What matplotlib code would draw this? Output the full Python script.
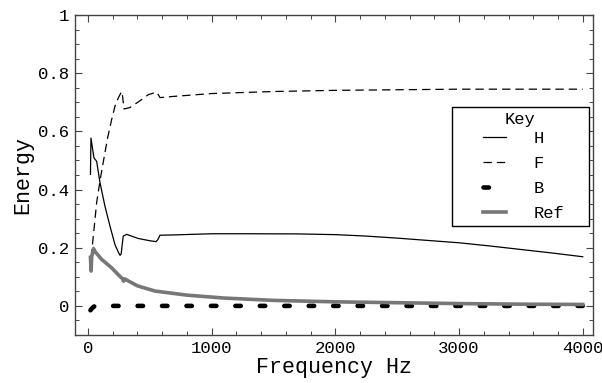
import matplotlib
matplotlib.use("Agg")
import matplotlib.pyplot as plt
from matplotlib.ticker import MultipleLocator
from matplotlib.lines import Line2D
from matplotlib.legend_handler import HandlerLine2D

plt.rcParams['font.family'] = ['Liberation Mono', 'DejaVu Sans Mono']
plt.rcParams['lines.scale_dashes'] = False

# H series
h_freq = [20, 24, 48, 70, 97, 137, 178, 218, 245, 259, 268, 278, 285, 313, 404, 500, 550,
          565, 582, 700, 838, 1000, 1300, 1700, 2000, 2250, 2500, 2750, 3000, 3250, 3500,
          3750, 4000]
h_val = [0.452, 0.577, 0.509, 0.497, 0.424, 0.343, 0.274, 0.211, 0.185, 0.174, 0.178, 0.215,
         0.24, 0.246, 0.232, 0.224, 0.221, 0.228, 0.243, 0.244, 0.246, 0.248, 0.248, 0.2475,
         0.245, 0.240, 0.233, 0.225, 0.217, 0.206, 0.194, 0.182, 0.169]

# F series
f_freq = [22, 30, 70, 97, 137, 159, 191, 218, 245, 272, 280, 291, 340, 420, 487, 555, 570,
          582, 687, 1000, 1500, 2000, 2500, 3000, 4000]
f_val = [0.12, 0.184, 0.355, 0.43, 0.527, 0.578, 0.64, 0.686, 0.715, 0.737, 0.72, 0.677,
         0.682, 0.705, 0.726, 0.735, 0.725, 0.716, 0.72, 0.73, 0.737, 0.741, 0.743, 0.745,
         0.745]

# B series
b_freq = [20, 35, 50, 60, 4000]
b_val = [-0.015, -0.007, -0.002, 0.0, 0.0]

# Ref series
r_freq = [20, 25, 30, 45, 60, 75, 110, 191, 250, 280, 288, 295, 400, 542, 800, 1100, 1500,
          2000, 2500, 3000, 3500, 4000]
r_val = [0.167, 0.12, 0.17, 0.197, 0.185, 0.178, 0.16, 0.131, 0.105, 0.093, 0.085, 0.093,
         0.069, 0.051, 0.037, 0.027, 0.019, 0.014, 0.011, 0.008, 0.006, 0.005]

fig = plt.figure(figsize=(6.02, 3.83), dpi=100)
ax = fig.add_axes([75/602, 1 - 335/383, (593-75)/602, (335-15)/383])

ax.plot(h_freq, h_val, color='black', lw=0.9, label='H')
ax.plot(f_freq, f_val, color='black', lw=0.9, dashes=(6, 3.6), label='F')
ax.plot(b_freq, b_val, color='black', lw=3.3, dashes=(3.9, 13.7),
        dash_capstyle='round', label='B')
ax.plot(r_freq, r_val, color='#777777', lw=2.6, label='Ref')

ax.set_xlim(-105, 4083)
ax.set_ylim(-0.1, 1.0)
ax.xaxis.set_major_locator(MultipleLocator(1000))
ax.xaxis.set_minor_locator(MultipleLocator(200))
ax.yaxis.set_minor_locator(MultipleLocator(0.05))
ax.set_yticks([0, 0.2, 0.4, 0.6, 0.8, 1.0])
ax.set_yticklabels(['0', '0.2', '0.4', '0.6', '0.8', '1'])
ax.tick_params(which='both', direction='in', top=True, right=True, labelsize=12.5,
               color='#444444')
ax.tick_params(which='major', length=5, width=0.8, pad=4)
ax.tick_params(which='minor', length=3, width=0.7)
for s in ax.spines.values():
    s.set_color('#444444')
    s.set_linewidth(1.0)

ax.set_xlabel('Frequency Hz', fontsize=15.6, labelpad=1)
ax.set_ylabel('Energy', fontsize=15.6, labelpad=4)


def legend_update(handle, orig):
    handle.update_from(orig)
    if orig.get_label() == 'B':
        handle.set_dashes((3.9, 30))


leg_top = (335 - 107) / 320
hmap = {Line2D: HandlerLine2D(xpad=1.53, update_func=legend_update)}
leg = ax.legend(title='Key', loc='upper left',
                bbox_to_anchor=((452-75)/518, leg_top - 0.1, 137/518, 0.1),
                mode='expand', handler_map=hmap,
                fontsize=12.3, title_fontsize=12.3, frameon=True, fancybox=False,
                edgecolor='black', framealpha=1, handlelength=2.88,
                borderpad=0.3, labelspacing=0.6, handletextpad=1.59, borderaxespad=0)
leg.get_frame().set_linewidth(1.0)
leg._legend_box.sep = 2.5

fig.savefig('out.png', dpi=100)
